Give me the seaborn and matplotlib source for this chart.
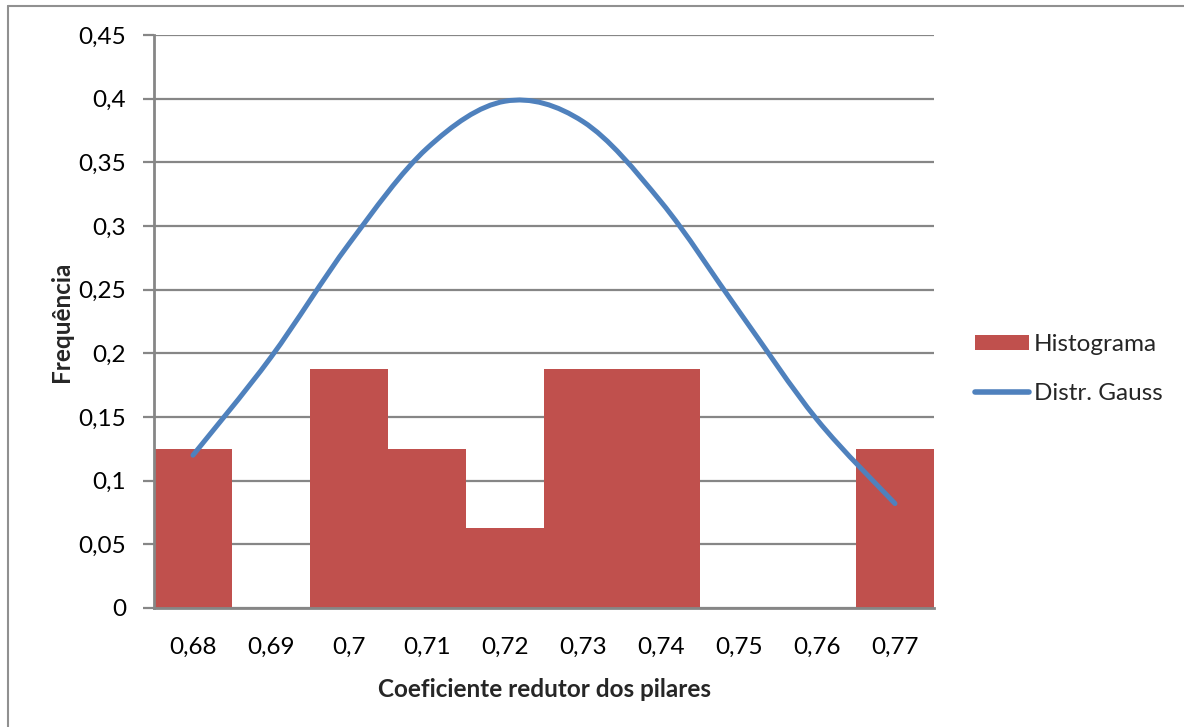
import matplotlib
matplotlib.use("Agg")
import matplotlib.pyplot as plt
import seaborn as sns
import pandas as pd
from matplotlib.path import Path
from matplotlib.patches import PathPatch, Patch
from matplotlib.lines import Line2D

categories = ["0,68", "0,69", "0,7", "0,71", "0,72", "0,73", "0,74", "0,75", "0,76", "0,77"]
histograma = [0.125, 0.0, 0.1875, 0.125, 0.0625, 0.1875, 0.1875, 0.0, 0.0, 0.125]
gauss = [0.120, 0.197, 0.286, 0.361, 0.398, 0.382, 0.319, 0.233, 0.148, 0.082]
y_ticks = [0, 0.05, 0.1, 0.15, 0.2, 0.25, 0.3, 0.35, 0.4, 0.45]

RED = "#C0504D"
BLUE = "#4F81BD"
GRID = "#868686"
FS = 17.5


def smooth_path(xs, ys):
    # Excel-style smoothed line: Catmull-Rom segments as cubic Bezier curves
    verts = [(xs[0], ys[0])]
    codes = [Path.MOVETO]
    n = len(xs)
    for i in range(n - 1):
        x0, y0 = (xs[i - 1], ys[i - 1]) if i > 0 else (xs[i], ys[i])
        x1, y1 = xs[i], ys[i]
        x2, y2 = xs[i + 1], ys[i + 1]
        x3, y3 = (xs[i + 2], ys[i + 2]) if i + 2 < n else (x2, y2)
        c1 = (x1 + (x2 - x0) / 6, y1 + (y2 - y0) / 6)
        c2 = (x2 - (x3 - x1) / 6, y2 - (y3 - y1) / 6)
        verts += [c1, c2, (x2, y2)]
        codes += [Path.CURVE4] * 3
    return Path(verts, codes)


sns.set_theme(style="white")
plt.rcParams["font.family"] = ["Lato", "DejaVu Sans"]

df = pd.DataFrame({"cat": categories, "Histograma": histograma, "Gauss": gauss})

fig = plt.figure(figsize=(11.84, 7.27), dpi=100)
ax = fig.add_axes([154 / 1184, 1 - 608 / 727, 780 / 1184, (608 - 35) / 727])

sns.barplot(data=df, x="cat", y="Histograma", color=RED, width=1.0,
            saturation=1, edgecolor="none", linewidth=0, ax=ax, zorder=2)

xs = list(range(len(categories)))
ax.add_patch(PathPatch(smooth_path(xs, gauss), facecolor="none", edgecolor=BLUE,
                       linewidth=3.6, capstyle="round", joinstyle="round", zorder=3))

ax.set_xlim(-0.5, len(categories) - 0.5)
ax.set_ylim(0, 0.45)
ax.set_yticks(y_ticks)
ax.set_yticklabels([("%g" % v).replace(".", ",") for v in y_ticks])
ax.yaxis.grid(True, color=GRID, linewidth=1.6, zorder=0)
ax.set_axisbelow(True)

for s in ["top", "right"]:
    ax.spines[s].set_visible(False)
for s in ["left", "bottom"]:
    ax.spines[s].set_color(GRID)
    ax.spines[s].set_linewidth(2)

ax.tick_params(axis="y", left=True, length=8, width=1.6, color=GRID,
               labelsize=FS, pad=12, labelcolor="black")
ax.tick_params(axis="x", bottom=False, labelsize=FS, pad=15, labelcolor="black")

ax.set_xlabel("Coeficiente redutor dos pilares", fontsize=FS, fontweight="bold", labelpad=14)
ax.set_ylabel("Frequência", fontsize=FS, fontweight="bold", labelpad=4)

handles = [Patch(facecolor=RED, edgecolor="none"),
           Line2D([0], [0], color=BLUE, linewidth=4, solid_capstyle="round")]
fig.legend(handles, ["Histograma", "Distr. Gauss"], loc="center left",
           bbox_to_anchor=(956 / 1184, 1 - 369 / 727), frameon=False, fontsize=FS,
           handlelength=2.2, handleheight=0.6, handletextpad=0.2,
           labelspacing=1.15, borderpad=0.3)

# chart area frame
fig.add_artist(Line2D([8 / 1184, 1.0], [1 - 5.5 / 727, 1 - 5.5 / 727],
                      color="#909090", linewidth=1.5, transform=fig.transFigure))
fig.add_artist(Line2D([8 / 1184, 8 / 1184], [0.0, 1 - 5.5 / 727],
                      color="#909090", linewidth=1.5, transform=fig.transFigure))

fig.savefig("out.png", dpi=100)
